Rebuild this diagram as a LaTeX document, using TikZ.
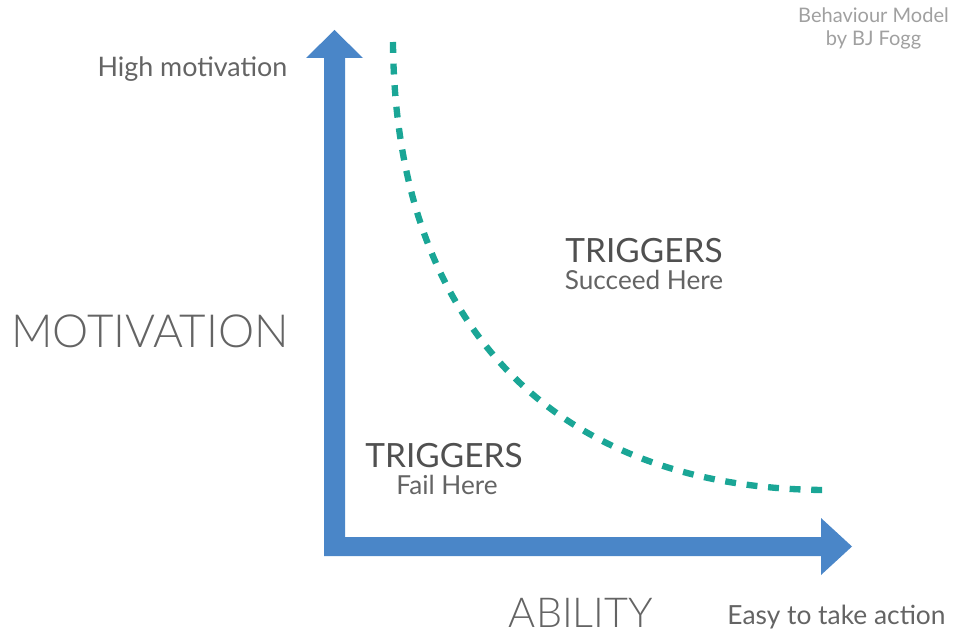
\documentclass[tikz,border=0pt]{standalone}
\usepackage{fontspec}
\setmainfont{Lato}
\newfontfamily\lightfont{Lato}[UprightFont={* Light}]
\definecolor{axisblue}{RGB}{74,134,200}
\definecolor{curveteal}{RGB}{26,166,150}
\definecolor{darktext}{RGB}{80,80,80}
\definecolor{midtext}{RGB}{100,100,100}
\definecolor{paletext}{RGB}{160,160,160}
\tikzset{
  lbl/.style={anchor=base, inner sep=0pt, outer sep=0pt},
  axislabel/.style={lbl, text=midtext, font=\lightfont},
  trig/.style={lbl, text=darktext, font=\fontsize{19}{22}\selectfont},
  sub/.style={lbl, text=midtext, font=\fontsize{14.9}{17}\selectfont},
  threshold/.style={draw=curveteal, line width=3.6pt, dash pattern=on 6.2pt off 6.1pt},
}
\begin{document}
\begin{tikzpicture}[x=0.02cm, y=-0.02cm]
\useasboundingbox (0,0) rectangle (965,635);
% L-shaped axes with both arrowheads, one filled outline
\fill[axisblue] (324,556) -- (324,58) -- (306,58) -- (334.5,30) -- (363,58)
  -- (345,58) -- (345,537) -- (821,537) -- (821,518) -- (852,546.5)
  -- (821,575) -- (821,556) -- cycle;
% action line
\draw[threshold] (393,42) .. controls (395,330) and (560,490) .. (828,490);
% labels
\node[lbl, text=paletext, font=\fontsize{11.4}{14}\selectfont] (title1) at (873.5,23) {Behaviour Model};
\node[lbl, text=paletext, font=\fontsize{11.4}{14}\selectfont] (title2) at (873.5,46) {by BJ Fogg};
\node[sub, font=\fontsize{15.3}{18}\selectfont] (high) at (192.5,77) {High motivation};
\node[axislabel, font=\lightfont\fontsize{26}{30}\selectfont] (motivation) at (150,348) {MOTIVATION};
\node[axislabel, font=\lightfont\fontsize{23.5}{27}\selectfont] (ability) at (581,627) {ABILITY};
\node[sub, font=\fontsize{15}{18}\selectfont] (easy) at (836.5,624) {Easy to take action};
\node[trig] (trigS) at (644,263) {TRIGGERS};
\node[sub] (succeed) at (644,290) {Succeed Here};
\node[trig] (trigF) at (444,467) {TRIGGERS};
\node[sub] (fail) at (447,495) {Fail Here};
\end{tikzpicture}
\end{document}
